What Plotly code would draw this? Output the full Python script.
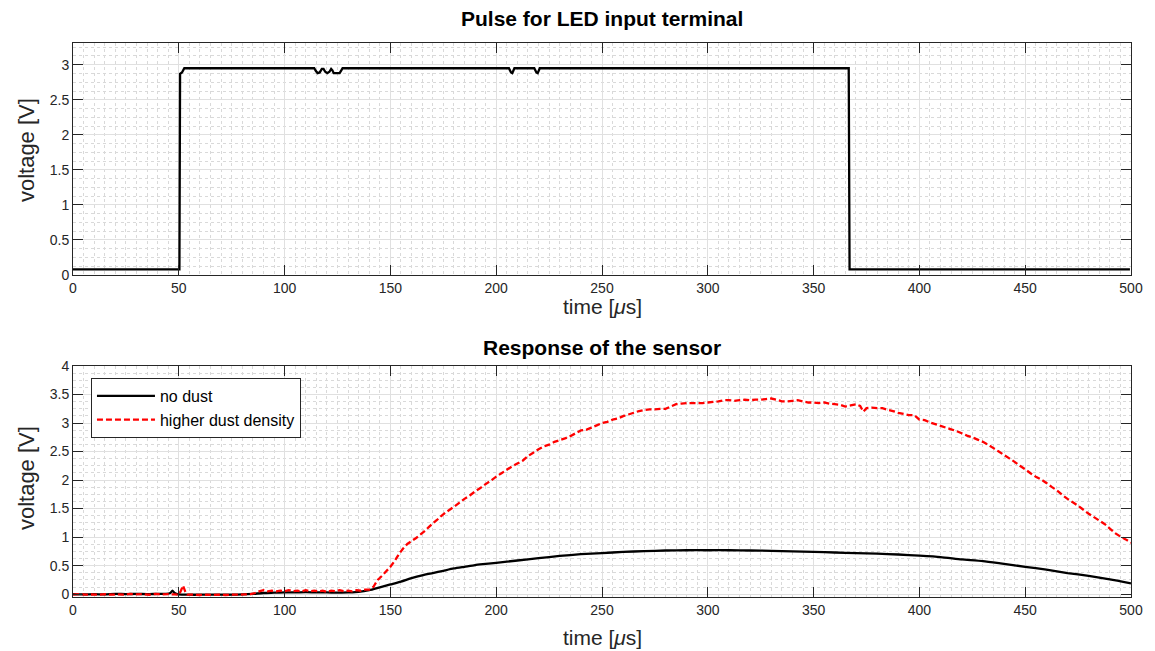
import plotly.graph_objects as go

# ---------------- data ----------------
# LED input pulse (top)
pulse_t = [0, 50.0, 50.3, 50.6, 51.5, 52.6,
           114.0, 114.8, 115.6, 116.6, 117.6, 118.4, 119.2, 120.2, 121.2, 122.0, 122.6, 123.2, 126.0, 126.8, 127.4,
           206.0, 207.0, 207.6, 208.6,
           218.0, 219.0, 219.6, 220.6,
           366.6, 367.0, 499.5]
pulse_v = [0.08, 0.08, 0.08, 2.87, 2.89, 2.95,
           2.95, 2.91, 2.88, 2.89, 2.94, 2.94, 2.90, 2.88, 2.90, 2.94, 2.92, 2.88, 2.88, 2.92, 2.95,
           2.95, 2.89, 2.88, 2.95,
           2.95, 2.89, 2.88, 2.95,
           2.95, 0.08, 0.08]

# sensor response: no dust
nodust_t = [0, 5, 10, 15, 20, 25, 30, 35, 40, 44, 46, 47, 48, 50, 55, 60, 65, 70, 75, 80, 85, 90, 95,
            100, 105, 110, 115, 120, 125, 130, 135, 140, 145, 150, 155, 160, 165, 170, 175, 180, 185,
            190, 195, 200, 210, 220, 230, 240, 250, 260, 270, 280, 290, 300, 310, 320, 330, 340, 350,
            360, 370, 380, 390, 400, 410, 420, 430, 440, 450, 460, 470, 480, 490, 500]
nodust_v = [0.0, -0.005, 0.0, -0.005, 0.005, 0.0, 0.005, 0.0, 0.005, 0.005, 0.02, 0.06, 0.02, -0.005,
            -0.01, -0.01, -0.01, -0.01, -0.01, -0.005, 0.005, 0.02, 0.025,
            0.03, 0.03, 0.035, 0.03, 0.03, 0.025, 0.03, 0.04, 0.07, 0.12, 0.17, 0.22, 0.28, 0.33, 0.37,
            0.41, 0.45, 0.48, 0.51, 0.53, 0.55, 0.59, 0.63, 0.67, 0.70, 0.72, 0.74, 0.755, 0.765, 0.77,
            0.77, 0.77, 0.765, 0.76, 0.75, 0.74, 0.73, 0.72, 0.71, 0.695, 0.675, 0.65, 0.61, 0.58, 0.53,
            0.48, 0.43, 0.37, 0.32, 0.26, 0.19]

# sensor response: higher dust density
dust_t = [0, 3, 6, 9, 12, 15, 18, 21, 24, 27, 30, 33, 36, 39, 42, 45, 48, 50, 51, 52, 53, 54, 57, 60,
          63, 66, 69, 72, 75, 78, 81, 84, 86, 88, 90, 92, 94, 96, 98, 100, 102, 104, 106, 108, 110, 112,
          114, 116, 118, 120, 122, 124, 126, 128, 130, 132, 134, 136, 138, 140, 142, 144, 146, 148, 150,
          152, 154, 156, 158, 160, 162, 164, 166, 168, 170, 172, 174, 176, 178, 180, 182.5, 185, 187.5,
          190, 192.5, 195, 197.5, 200, 202.5, 205, 207.5, 210, 212.5, 215, 217.5, 220, 222.5, 225, 227.5,
          230, 232.5, 235, 237.5, 240, 242.5, 245, 247.5, 250, 252.5, 255, 257.5, 260, 262.5, 265, 267.5,
          270, 272.5, 275, 277.5, 280, 282.5, 285, 287.5, 290, 292.5, 295, 297.5, 300, 302.5, 305, 307.5,
          310, 312.5, 315, 317.5, 320, 322.5, 325, 327.5, 330, 332.5, 335, 337.5, 340, 342.5, 345, 347.5,
          350, 352.5, 355, 357.5, 360, 362.5, 365, 367.5, 370, 372, 373.5, 375, 377.5, 380, 382.5, 385,
          387.5, 390, 392.5, 395, 397.5, 400, 402.5, 405, 407.5, 410, 412.5, 415, 417.5, 420, 422.5, 425,
          427.5, 430, 432.5, 435, 437.5, 440, 442.5, 445, 447.5, 450, 452.5, 455, 457.5, 460, 462.5, 465,
          467.5, 470, 472.5, 475, 477.5, 480, 482.5, 485, 487.5, 490, 492.5, 495, 497.5, 500]
dust_v = [-0.01, 0.0, -0.01, -0.005, -0.01, 0.0, -0.01, -0.005, -0.01, 0.005, -0.005, 0.0, -0.01, 0.005,
          -0.005, 0.0, -0.005, -0.01, 0.06, 0.15, 0.05, -0.01, -0.01, -0.015,
          -0.01, -0.015, -0.01, -0.015, -0.01, -0.01, -0.005, 0.0, 0.02, 0.05, 0.07, 0.05, 0.06, 0.05,
          0.06, 0.05, 0.07, 0.05, 0.06, 0.05, 0.07, 0.05,
          0.06, 0.05, 0.06, 0.04, 0.06, 0.05, 0.07, 0.05, 0.06, 0.05, 0.07, 0.06, 0.08, 0.08, 0.13,
          0.25, 0.32, 0.40, 0.48,
          0.58, 0.70, 0.80, 0.88, 0.93, 0.98, 1.04, 1.10, 1.17, 1.24, 1.30, 1.37, 1.43, 1.48, 1.53,
          1.60, 1.67, 1.73,
          1.80, 1.86, 1.93, 1.99, 2.06, 2.12, 2.18, 2.24, 2.29, 2.34, 2.42, 2.48, 2.54, 2.59, 2.62,
          2.67,
          2.70, 2.73, 2.77, 2.82, 2.87, 2.88, 2.92, 2.96, 3.00, 3.02, 3.06, 3.08, 3.12, 3.15, 3.18,
          3.21,
          3.23, 3.24, 3.24, 3.25, 3.25, 3.29, 3.33, 3.34, 3.35, 3.35, 3.35, 3.35, 3.36, 3.37, 3.38,
          3.40,
          3.40, 3.39, 3.40, 3.41, 3.40, 3.41, 3.41, 3.42, 3.43, 3.41, 3.38, 3.38, 3.39, 3.40, 3.38,
          3.36,
          3.36, 3.35, 3.36, 3.34, 3.33, 3.32, 3.29, 3.31, 3.33, 3.30, 3.20, 3.26, 3.27, 3.26, 3.26,
          3.23,
          3.21, 3.18, 3.16, 3.14, 3.14, 3.06, 3.05, 3.01, 2.98, 2.95, 2.92, 2.89, 2.86, 2.82, 2.78,
          2.75,
          2.71, 2.67, 2.62, 2.56, 2.50, 2.44, 2.38, 2.32, 2.25, 2.19, 2.12, 2.06, 2.01, 1.95, 1.88,
          1.82,
          1.74, 1.67, 1.61, 1.55, 1.48, 1.41, 1.35, 1.29, 1.23, 1.15, 1.07, 1.01, 0.96, 0.90]

top_title = "Pulse for LED input terminal"
bottom_title = "Response of the sensor"
x_label = "time [<i>μ</i>s]"
y_label = "voltage [V]"

# ---------------- figure ----------------
FONT = "Liberation Sans, Arial, Helvetica, sans-serif"
AX = "#262626"

fig = go.Figure()
fig.add_trace(go.Scatter(x=pulse_t, y=pulse_v, mode="lines",
                         line=dict(color="black", width=2.3, simplify=False),
                         showlegend=False, xaxis="x", yaxis="y"))
fig.add_trace(go.Scatter(x=nodust_t, y=nodust_v, mode="lines", name="no dust",
                         line=dict(color="black", width=2.3, simplify=False, shape="spline", smoothing=0.6),
                         xaxis="x2", yaxis="y2"))
fig.add_trace(go.Scatter(x=dust_t, y=dust_v, mode="lines", name="higher dust density",
                         line=dict(color="#ff0000", width=2.3, dash="6px,3px", simplify=False),
                         xaxis="x2", yaxis="y2"))

W, H = 1155, 651
ML, MR, MT, MB = 73, 22, 43, 54
PH = H - MT - MB


def py(p):
    return (H - MB - p) / PH


def px(p):
    return (p - ML) / (W - ML - MR)


MINOR_GRID = dict(showgrid=True, gridcolor="#d9d9d9", griddash="dot", gridwidth=1)

common = dict(
    showline=True, linecolor=AX, linewidth=1, mirror="ticks",
    ticks="inside", ticklen=10, tickcolor=AX, tickwidth=1,
    showgrid=True, gridcolor="#e0e0e0", gridwidth=1,
    zeroline=False,
    tickfont=dict(family=FONT, size=14, color=AX),
)

xcommon = dict(common, range=[0, 500], tick0=0, dtick=50, minor=dict(MINOR_GRID, dtick=5))

fig.update_layout(
    width=W, height=H,
    margin=dict(l=ML, r=MR, t=MT, b=MB),
    paper_bgcolor="white", plot_bgcolor="white",
    xaxis=dict(xcommon, domain=[0, 1], anchor="y"),
    yaxis=dict(common, domain=[py(275), 1], anchor="x", range=[0, 3.31], tick0=0, dtick=0.5,
               minor=dict(MINOR_GRID, tick0=0, dtick=0.125)),
    xaxis2=dict(xcommon, domain=[0, 1], anchor="y2"),
    yaxis2=dict(common, domain=[0, py(366)], anchor="x2", range=[-0.05, 4], tick0=0, dtick=0.5,
                minor=dict(MINOR_GRID, tick0=0, dtick=0.125)),
    legend=dict(x=px(91), y=py(378), xanchor="left", yanchor="top",
                bgcolor="white", bordercolor=AX, borderwidth=1, itemwidth=58,
                font=dict(family=FONT, size=16, color="black"), tracegroupgap=0),
    showlegend=True,
)

ann = [
    dict(text="<b>" + top_title + "</b>", x=0.5, y=py(18), yanchor="middle", font=dict(size=21)),
    dict(text="<b>" + bottom_title + "</b>", x=0.5, y=py(347), yanchor="middle", font=dict(size=21)),
    dict(text=x_label, x=0.5, y=py(293), yanchor="top", font=dict(size=21, color=AX)),
    dict(text=x_label, x=0.5, y=py(624), yanchor="top", font=dict(size=21, color=AX)),
    dict(text=y_label, x=px(26), y=py(150), yanchor="middle", textangle=-90, font=dict(size=22, color=AX)),
    dict(text=y_label, x=px(26), y=py(478), yanchor="middle", textangle=-90, font=dict(size=22, color=AX)),
]
for a in ann:
    f = dict(family=FONT, color="black")
    f.update(a.pop("font"))
    fig.add_annotation(xref="paper", yref="paper", showarrow=False, xanchor="center",
                       font=f, **a)

fig.write_html("out.html")
